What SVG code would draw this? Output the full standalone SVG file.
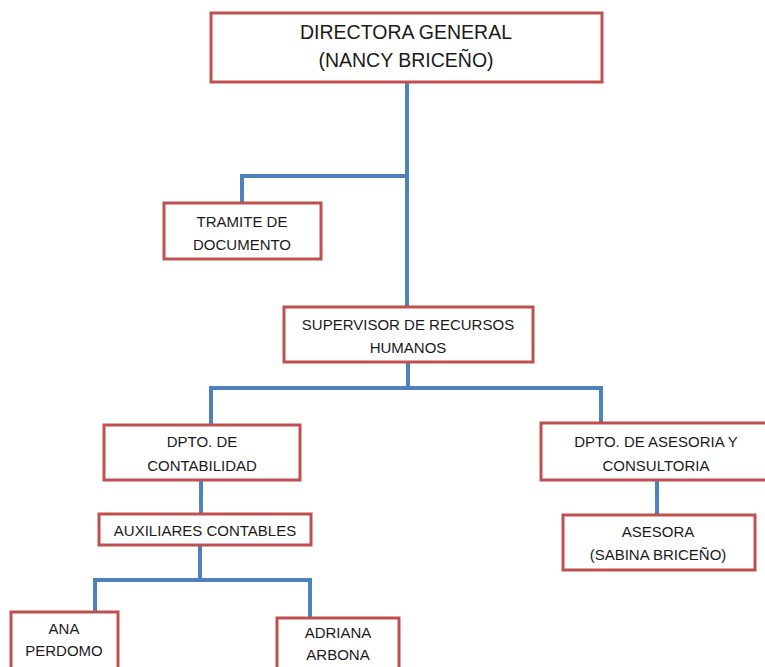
<svg xmlns="http://www.w3.org/2000/svg" width="765" height="667" viewBox="0 0 765 667">
<style>
.box{fill:#ffffff;stroke:#C0504D;stroke-width:3}
.ln{fill:none;stroke:#4F81BD;stroke-width:4}
text{font-family:"Liberation Sans",Arial,sans-serif;font-size:15px;fill:#1a1a1a;text-anchor:middle}
.big{font-size:19.5px}
</style>
<rect width="765" height="667" fill="#ffffff"/>
<g id="connectors">
<path class="ln" d="M407,82 V307"/>
<path class="ln" d="M407,176 H242 V203"/>
<path class="ln" d="M408,362 V388"/>
<path class="ln" d="M211,425 V388 H601 V423"/>
<path class="ln" d="M201,480 V514"/>
<path class="ln" d="M657,480 V515"/>
<path class="ln" d="M200,545 V580"/>
<path class="ln" d="M95,612 V580 H310 V618"/>
</g>
<g id="directora">
<rect class="box" x="211" y="13" width="391" height="69"/>
<text class="big" x="406" y="39">DIRECTORA GENERAL</text>
<text class="big" x="406" y="67">(NANCY BRICEÑO)</text>
</g>
<g id="tramite">
<rect class="box" x="164" y="203" width="157" height="56"/>
<text x="242" y="227">TRAMITE DE</text>
<text x="242" y="250">DOCUMENTO</text>
</g>
<g id="supervisor">
<rect class="box" x="284" y="307" width="249" height="55"/>
<text x="408" y="330">SUPERVISOR DE RECURSOS</text>
<text x="408" y="353">HUMANOS</text>
</g>
<g id="contabilidad">
<rect class="box" x="104" y="425" width="196" height="55"/>
<text x="202" y="447">DPTO. DE</text>
<text x="202" y="471">CONTABILIDAD</text>
</g>
<g id="auxiliares">
<rect class="box" x="99" y="514" width="212" height="31"/>
<text x="205" y="536">AUXILIARES CONTABLES</text>
</g>
<g id="asesoria">
<rect class="box" x="541" y="423" width="230" height="57"/>
<text x="656" y="447">DPTO. DE ASESORIA Y</text>
<text x="656" y="471">CONSULTORIA</text>
</g>
<g id="asesora">
<rect class="box" x="563" y="515" width="192" height="55"/>
<text x="658" y="537">ASESORA</text>
<text x="658" y="560">(SABINA BRICEÑO)</text>
</g>
<g id="ana">
<rect class="box" x="11" y="612" width="107" height="60"/>
<text x="64" y="634">ANA</text>
<text x="64" y="656">PERDOMO</text>
</g>
<g id="adriana">
<rect class="box" x="277" y="618" width="122" height="60"/>
<text x="338" y="638">ADRIANA</text>
<text x="338" y="660">ARBONA</text>
</g>
</svg>
